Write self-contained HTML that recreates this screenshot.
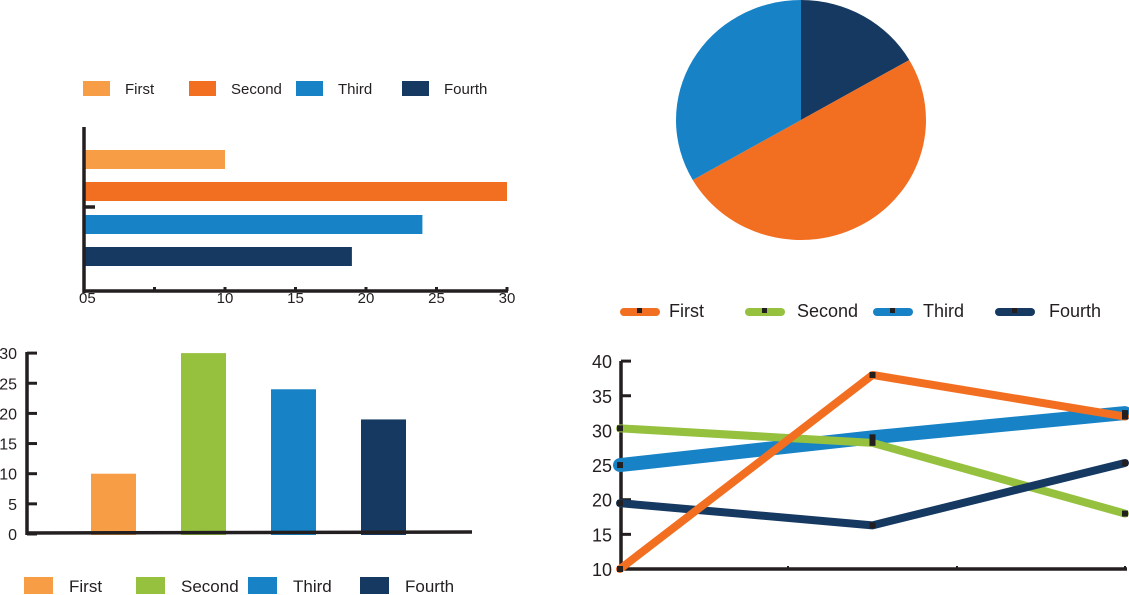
<!DOCTYPE html>
<html><head><meta charset="utf-8"><style>
html,body{margin:0;padding:0;background:#fff;}
svg{display:block;font-family:"Liberation Sans",sans-serif;}
</style></head><body>
<svg id="s" width="1129" height="595" viewBox="0 0 1129 595"></svg>
<script>
const categories = ["First","Second","Third","Fourth"];
const hbarValues = [10,30,24,19];
const hbarTicks = ["05","","10","15","20","25","30"];
const vbarValues = [10,30,24,19];
const vbarTicks = [0,5,10,15,20,25,30];
const pieValues = [10,30,20]; // Fourth, Second, Third
const lineFirst = [10,38,32];
const lineSecond = [30.3,28.2,18];
const lineThird = [25,29,32.5];
const lineFourth = [19.5,16.3,25.3];
const lineTicks = [10,15,20,25,30,35,40];

const C = {lo:"#f79d45",or:"#f26f21",gr:"#95c13f",bl:"#1782c5",nv:"#163961",ax:"#231f20"};
const s = document.getElementById('s');
const NS = "http://www.w3.org/2000/svg";
function mk(tag, at, name, parent){
  const e = document.createElementNS(NS, tag);
  for (const k in at) e.setAttribute(k, at[k]);
  
  
  (parent||s).appendChild(e);
  return e;
}
function txt(x,y,t,size,name,anchor){
  const e = mk('text',{x:x,y:y,'font-size':size,fill:"#231f20",'text-anchor':anchor||'start'},name);
  e.textContent = t; return e;
}

// ---- Horizontal bar chart ----
const hx = v => 84 + v*14.1;
const hbarColors = [C.lo,C.or,C.bl,C.nv];
const hbarY = [150,182,215,247];
hbarValues.forEach((v,i)=>{
  mk('rect',{x:84,y:hbarY[i],width:hx(v)-84,height:19,fill:hbarColors[i]},'hbar-'+categories[i].toLowerCase());
});
mk('line',{x1:84,y1:127,x2:84,y2:293,stroke:C.ax,'stroke-width':3.5},'hbar-y-axis');
mk('line',{x1:84,y1:207,x2:95,y2:207,stroke:C.ax,'stroke-width':3.5},'hbar-y-tick');
mk('line',{x1:83,y1:291,x2:508,y2:291,stroke:C.ax,'stroke-width':3.5},'hbar-x-axis');
hbarTicks.forEach((t,i)=>{
  const x = hx(i*5);
  mk('line',{x1:x,y1:287,x2:x,y2:291,stroke:C.ax,'stroke-width':3},'hbar-x-tick');
  if(t) txt(i===0?79:x,303,t,15,'hbar-x-tick-label',i===0?'start':'middle');
});
// top-left legend
const lg1x=[83,189,296,402];
categories.forEach((c,i)=>{
  mk('rect',{x:lg1x[i],y:81,width:27,height:15,fill:hbarColors[i]},'legend-swatch-'+c.toLowerCase());
  txt(lg1x[i]+42,94,c,15,'legend-label-'+c.toLowerCase());
});

// ---- Pie ----
const pcx=801,pcy=120,rx=125,ry=120;
const pieColors=[C.nv,C.or,C.bl];
const pieNames=['fourth','second','third'];
const tot = pieValues.reduce((a,b)=>a+b,0);
let a0 = 0;
pieValues.forEach((v,i)=>{
  const a1 = a0 + v/tot*2*Math.PI;
  const x0=pcx+rx*Math.sin(a0), y0=pcy-ry*Math.cos(a0);
  const x1=pcx+rx*Math.sin(a1), y1=pcy-ry*Math.cos(a1);
  const large = (a1-a0)>Math.PI?1:0;
  mk('path',{d:`M${pcx},${pcy} L${x0},${y0} A${rx},${ry} 0 ${large} 1 ${x1},${y1} Z`,fill:pieColors[i]},'pie-slice-'+pieNames[i]);
  a0=a1;
});

// ---- Vertical bar chart ----
const vy = v => 534 - v*6.03;
const vbarColors=[C.lo,C.gr,C.bl,C.nv];
const vbarX=[91,181,271,361];
vbarValues.forEach((v,i)=>{
  mk('rect',{x:vbarX[i],y:vy(v),width:45,height:534-vy(v)+1,fill:vbarColors[i]},'vbar-'+categories[i].toLowerCase());
});
mk('line',{x1:27,y1:352,x2:27,y2:535,stroke:C.ax,'stroke-width':3.5},'vbar-y-axis');
mk('line',{x1:26,y1:533,x2:472,y2:532,stroke:C.ax,'stroke-width':3.5},'vbar-x-axis');
vbarTicks.forEach(t=>{
  const y=vy(t);
  mk('line',{x1:27,y1:y,x2:37,y2:y,stroke:C.ax,'stroke-width':3},'vbar-y-tick');
  txt(17,y+6,String(t),16,'vbar-y-tick-label','end');
});
const lg3x=[24,136,248,360];
categories.forEach((c,i)=>{
  mk('rect',{x:lg3x[i],y:577,width:29,height:17,fill:vbarColors[i]},'legend-swatch-bottom-'+c.toLowerCase());
  txt(lg3x[i]+45,592,c,17,'legend-label-bottom-'+c.toLowerCase());
});

// ---- Line chart ----
const lxPos = i => 620 + i*252.5;
const ly = v => 569 - (v-10)*6.93;
mk('line',{x1:621,y1:361,x2:621,y2:570,stroke:C.ax,'stroke-width':3.5},'line-y-axis');
mk('line',{x1:620,y1:569,x2:1127,y2:569,stroke:C.ax,'stroke-width':3.5},'line-x-axis');
[788,957,1125].forEach(x=>mk('line',{x1:x,y1:566,x2:x,y2:569,stroke:C.ax,'stroke-width':2},'line-x-tick'));
lineTicks.forEach(t=>{
  const y=ly(t);
  mk('line',{x1:621,y1:y,x2:631,y2:y,stroke:C.ax,'stroke-width':3},'line-y-tick');
  txt(612,y+7,String(t),18,'line-y-tick-label','end');
});
const series=[[lineThird,C.bl,14,'third'],[lineSecond,C.gr,8,'second'],[lineFourth,C.nv,8,'fourth'],[lineFirst,C.or,8,'first']];
series.forEach(([d,col,w,n])=>{
  const pts=d.map((v,i)=>lxPos(i)+','+ly(v)).join(' ');
  mk('polyline',{points:pts,fill:'none',stroke:col,'stroke-width':w,'stroke-linecap':'round','stroke-linejoin':'round'},'line-series-'+n);
});
series.forEach(([d,col,w,n])=>{
  d.forEach((v,i)=>mk('rect',{x:lxPos(i)-3,y:ly(v)-3,width:6,height:6,fill:C.ax},'line-point-'+n));
});
const lg2x=[620,745,873,995];
const lgText=[669,797,923,1049];
const lgCol=[C.or,C.gr,C.bl,C.nv];
categories.forEach((c,i)=>{
  mk('line',{x1:lg2x[i]+4,y1:312,x2:lg2x[i]+36,y2:312,stroke:lgCol[i],'stroke-width':8,'stroke-linecap':'round'},'line-legend-swatch-'+c.toLowerCase());
  mk('rect',{x:lg2x[i]+17,y:308,width:5,height:5,fill:C.ax},'line-legend-marker-'+c.toLowerCase());
  txt(lgText[i],317,c,18,'line-legend-label-'+c.toLowerCase());
});
</script>
</body></html>
